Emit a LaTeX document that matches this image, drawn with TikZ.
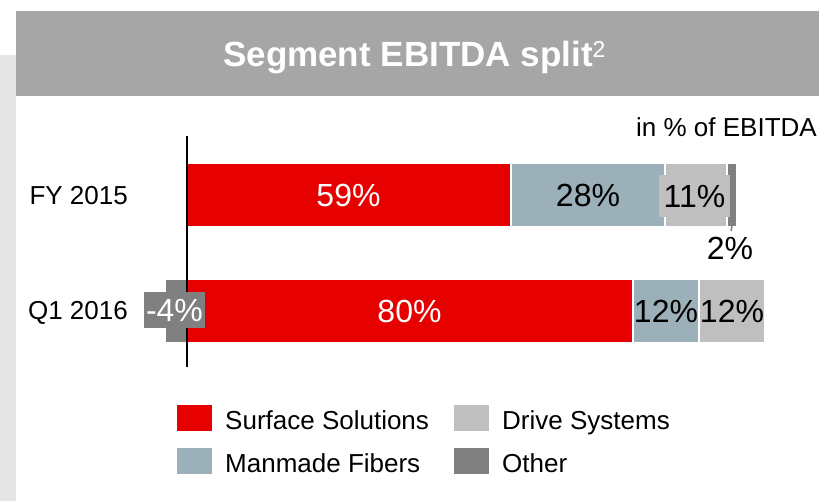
\documentclass[tikz,border=0pt]{standalone}
\usepackage{fontspec}
\setmainfont{Liberation Sans}
\definecolor{hdr}{HTML}{A6A6A6}
\definecolor{panel}{HTML}{E6E6E6}
\definecolor{cSS}{HTML}{E60000}
\definecolor{cMF}{HTML}{9BB0B8}
\definecolor{cDS}{HTML}{BFBFBF}
\definecolor{cOT}{HTML}{808080}
\tikzset{
  seg/.style={rectangle, inner sep=0pt, outer sep=0pt, minimum height=62pt, anchor=west, draw=none},
  barlbl/.style={inner sep=0pt, font=\fontsize{32}{36}\selectfont, text height=23pt, text depth=0pt},
  lblbox/.style={rectangle, inner sep=0pt, outer sep=0pt, minimum height=36pt, font=\fontsize{32}{36}\selectfont, text height=23pt, text depth=0pt},
  rowlbl/.style={inner sep=0pt, anchor=base east, font=\fontsize{26}{30}\selectfont},
  legbox/.style={rectangle, inner sep=0pt, outer sep=0pt, minimum width=35pt, minimum height=26pt, anchor=north west},
  legtxt/.style={inner sep=0pt, anchor=base west, font=\fontsize{26}{30}\selectfont}
}
\begin{document}
\begin{tikzpicture}[x=1pt,y=-1pt]
\useasboundingbox (0,0) rectangle (819,501);
% background panels
\fill[panel] (0,55) rectangle (16,501);
\fill[hdr] (16,11) rectangle (819,96);
\node[inner sep=0pt, anchor=base west, text=white] (title) at (223,66)
  {\fontsize{35}{40}\selectfont\bfseries Segment EBITDA split\raisebox{9pt}{\fontsize{23}{26}\selectfont\mdseries 2}};
\node[inner sep=0pt, anchor=base east, font=\fontsize{26}{30}\selectfont] (unit) at (817,136) {in \% of EBITDA};
% row labels
\node[rowlbl] (fy) at (128,204) {FY 2015};
\node[rowlbl] (q1) at (128,319) {Q1 2016};
% FY 2015 bars
\node[seg, fill=cSS, minimum width=323pt] (fyss) at (187,195) {};
\node[seg, fill=cMF, minimum width=152pt] (fymf) at (512,195) {};
\node[seg, fill=cDS, minimum width=60pt] (fyds) at (666,195) {};
\node[seg, fill=cOT, minimum width=8pt] (fyot) at (728,195) {};
% Q1 2016 bars
\node[seg, fill=cOT, minimum width=21pt] (q1ot) at (166,311) {};
\node[seg, fill=cSS, minimum width=445pt] (q1ss) at (187,311) {};
\node[seg, fill=cMF, minimum width=64pt] (q1mf) at (634,311) {};
\node[seg, fill=cDS, minimum width=64pt] (q1ds) at (700,311) {};
% axis
\coordinate (axtop) at (187,136);
\coordinate (axbot) at (187,367);
\draw[line width=2pt] (axtop) -- (axbot);
% labels FY
\node[barlbl, text=white] (l59) at (fyss.center) {59\%};
\node[barlbl] (l28) at (fymf.center) {28\%};
\node[lblbox, fill=cDS, minimum width=71pt, minimum height=42pt] (l11) at (694.5,196) {11\%};
\coordinate (lead2) at (731,231);
\draw[cOT, line width=1.5pt] (fyot.south) -- (lead2);
\node[barlbl, anchor=north] (l2) at (730,236) {2\%};
% labels Q1
\node[barlbl, text=white] (l80) at (q1ss.center) {80\%};
\node[barlbl] (l12a) at (q1mf.center) {12\%};
\node[barlbl] (l12b) at (q1ds.center) {12\%};
\node[lblbox, fill=cOT, text=white, minimum width=61pt] (lm4) at (174.5,310) {-4\%};
% legend
\node[legbox, fill=cSS] (kss) at (177,405) {};
\node[legbox, fill=cMF] (kmf) at (177,448) {};
\node[legbox, fill=cDS] (kds) at (454,405) {};
\node[legbox, fill=cOT] (kot) at (454,448) {};
\node[legtxt] (tss) at (225,429) {Surface Solutions};
\node[legtxt] (tmf) at (225,472) {Manmade Fibers};
\node[legtxt] (tds) at (502,429) {Drive Systems};
\node[legtxt] (tot) at (502,472) {Other};
\end{tikzpicture}
\end{document}
